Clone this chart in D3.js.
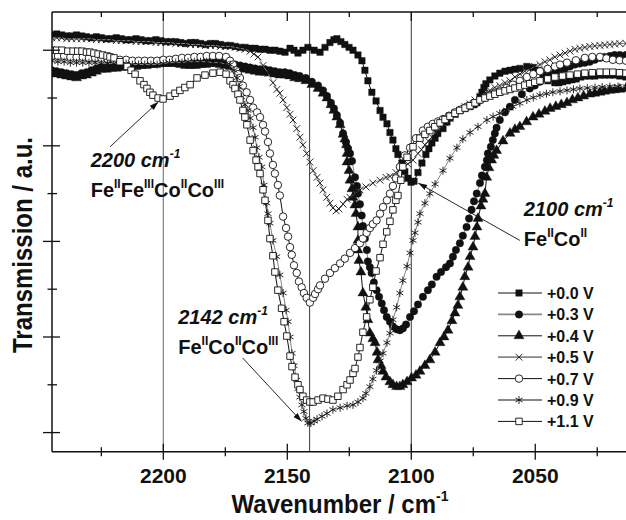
<!DOCTYPE html>
<html>
<head>
<meta charset="utf-8">
<script src="https://cdn.jsdelivr.net/npm/d3@7"></script>
<style>
  body { margin: 0; background: #fff; }
  svg text { font-family: "Liberation Sans", Arial, Helvetica, sans-serif; fill: #111; }
</style>
</head>
<body>
<div id="chart"></div>
<script>
// IR spectra, [wavenumber (cm-1), transmission (a.u.)]
const s00 = [[2244.9,41.6],[2243.0,41.7],[2241.0,41.6],[2239.0,41.5],[2237.0,41.5],[2235.0,41.6],[2233.0,41.5],[2231.0,41.4],[2229.0,41.3],[2227.0,41.4],[2225.0,41.3],[2223.0,41.2],[2221.0,41.2],[2219.0,41.3],[2217.0,41.2],[2215.0,41.1],[2213.0,41.1],[2211.0,41.2],[2209.0,41.1],[2207.0,41.0],[2205.0,41.0],[2203.0,41.1],[2201.0,41.0],[2199.0,40.9],[2197.0,40.9],[2195.0,40.9],[2193.0,40.8],[2191.0,40.7],[2189.0,40.8],[2187.0,40.8],[2185.0,40.7],[2183.0,40.6],[2181.0,40.7],[2179.0,40.7],[2177.0,40.6],[2175.0,40.5],[2173.0,40.5],[2171.0,40.4],[2169.0,40.3],[2167.0,40.3],[2165.0,40.2],[2163.0,40.2],[2161.0,40.1],[2159.0,40.1],[2157.0,40.0],[2155.0,40.0],[2153.0,39.9],[2150.9,39.8],[2148.9,40.2],[2147.3,40.0],[2145.7,39.7],[2143.7,40.0],[2141.7,40.3],[2139.2,40.0],[2136.8,39.8],[2134.8,40.3],[2132.8,40.8],[2131.2,41.1],[2130.0,41.2],[2128.4,40.9],[2126.8,40.6],[2125.1,40.3],[2123.5,40.0],[2121.5,39.5],[2119.9,38.9],[2118.7,37.9],[2117.5,36.8],[2115.9,35.6],[2114.2,34.7],[2112.6,33.7],[2111.4,33.0],[2109.8,32.3],[2108.6,31.4],[2107.4,30.6],[2106.2,29.7],[2105.4,29.1],[2103.8,28.2],[2102.6,27.3],[2101.4,26.6],[2100.1,26.2],[2098.9,26.3],[2097.3,27.2],[2095.7,28.2],[2094.1,29.1],[2092.9,29.7],[2091.7,30.3],[2090.4,30.8],[2089.3,31.3],[2087.2,31.8],[2085.6,32.5],[2084.4,32.9],[2082.4,33.3],[2080.4,33.7],[2078.4,33.9],[2076.3,34.1],[2074.7,34.3],[2073.5,34.5],[2072.3,35.1],[2071.5,35.6],[2070.7,36.1],[2069.9,36.5],[2068.3,36.9],[2066.3,37.3],[2064.3,37.6],[2062.2,37.8],[2060.2,37.9],[2058.2,38.0],[2056.2,38.1],[2053.4,38.3],[2050.9,38.2],[2048.9,37.9],[2046.9,37.4],[2044.9,36.8],[2042.1,36.6],[2040.5,36.6],[2038.9,36.7],[2037.0,36.8],[2035.2,36.9],[2033.5,37.0],[2031.6,37.2],[2030.0,37.3],[2028.0,37.3],[2026.0,37.3],[2023.9,37.4],[2022.0,37.4],[2019.9,37.4],[2018.0,37.4],[2015.9,37.3],[2013.4,37.2]];

const s03 = [[2245.0,37.9],[2243.0,37.8],[2241.0,37.7],[2239.0,37.6],[2237.0,37.5],[2235.0,37.4],[2233.0,37.6],[2231.0,37.7],[2229.0,37.9],[2227.0,38.1],[2225.0,38.3],[2223.0,38.3],[2221.0,38.4],[2219.0,38.4],[2217.0,38.5],[2215.0,38.5],[2213.0,38.6],[2211.0,38.6],[2209.0,38.7],[2207.0,38.7],[2205.0,38.8],[2203.0,38.8],[2201.0,38.9],[2199.0,38.9],[2197.0,38.9],[2195.0,38.9],[2193.0,38.8],[2191.0,38.7],[2189.0,38.7],[2187.0,38.7],[2185.0,38.8],[2183.0,38.8],[2181.0,38.9],[2179.0,38.9],[2177.0,38.8],[2175.0,38.7],[2173.0,38.6],[2171.0,38.5],[2169.0,38.4],[2167.0,38.3],[2165.0,38.2],[2163.0,38.1],[2161.0,38.0],[2159.0,38.0],[2157.0,37.9],[2155.0,37.8],[2153.0,37.7],[2151.0,37.7],[2149.0,37.6],[2147.0,37.4],[2145.0,37.3],[2142.5,37.1],[2140.1,36.7],[2137.6,36.3],[2135.6,35.8],[2134.0,35.2],[2132.4,34.5],[2131.2,33.9],[2130.0,33.2],[2128.7,32.4],[2127.5,31.3],[2126.4,30.4],[2125.5,29.7],[2124.7,29.2],[2123.9,28.4],[2122.7,26.7],[2121.9,25.8],[2121.5,25.0],[2120.7,23.9],[2120.0,22.7],[2119.5,21.6],[2118.7,20.3],[2117.9,19.1],[2117.5,17.9],[2116.7,17.3],[2116.0,16.7],[2115.1,15.7],[2114.0,14.9],[2113.0,14.2],[2111.9,13.5],[2111.0,12.8],[2109.9,12.1],[2108.6,11.6],[2107.4,11.1],[2105.9,10.8],[2104.6,10.7],[2103.4,10.9],[2102.1,11.3],[2100.5,12.1],[2098.9,12.7],[2097.3,13.4],[2095.3,14.2],[2093.3,14.9],[2091.7,15.5],[2089.8,16.3],[2088.0,16.8],[2086.0,17.3],[2084.4,17.7],[2083.2,18.4],[2082.0,19.1],[2080.4,19.8],[2079.2,20.6],[2077.7,21.5],[2076.7,22.4],[2075.7,23.3],[2074.7,24.2],[2073.6,25.0],[2072.3,26.1],[2071.5,26.9],[2070.3,27.8],[2069.5,28.5],[2069.1,29.2],[2067.9,29.9],[2067.1,30.6],[2066.3,31.3],[2065.6,31.9],[2064.3,32.7],[2062.2,33.5],[2060.2,34.1],[2058.2,34.8],[2055.4,35.4],[2052.2,36.0],[2050.2,36.3],[2048.1,36.7],[2046.0,37.1],[2044.1,37.4],[2042.0,37.7],[2040.0,37.9],[2038.0,38.1],[2036.0,38.3],[2034.0,38.5],[2032.0,38.6],[2030.0,38.7],[2028.0,38.8],[2026.0,39.0],[2023.9,39.2],[2022.0,39.3],[2019.9,39.4],[2018.0,39.5],[2015.9,39.5],[2013.4,39.5]];

const s04 = [[2245.0,37.6],[2243.0,37.5],[2241.0,37.4],[2239.0,37.3],[2237.0,37.2],[2235.0,37.1],[2233.0,37.3],[2231.0,37.4],[2229.0,37.6],[2227.0,37.8],[2225.0,38.0],[2223.0,38.0],[2221.0,38.1],[2219.0,38.1],[2217.0,38.2],[2215.0,38.2],[2213.0,38.3],[2211.0,38.3],[2209.0,38.4],[2207.0,38.4],[2205.0,38.5],[2203.0,38.5],[2201.0,38.6],[2199.0,38.6],[2197.0,38.6],[2195.0,38.6],[2193.0,38.5],[2191.0,38.4],[2189.0,38.4],[2187.0,38.4],[2185.0,38.5],[2183.0,38.5],[2181.0,38.6],[2179.0,38.6],[2177.0,38.5],[2175.0,38.4],[2173.0,38.3],[2171.0,38.2],[2169.0,38.1],[2167.0,38.0],[2165.0,37.9],[2163.0,37.8],[2161.0,37.7],[2159.0,37.7],[2157.0,37.6],[2155.0,37.5],[2153.0,37.4],[2151.0,37.4],[2149.0,37.3],[2147.0,37.1],[2145.0,37.0],[2142.5,36.8],[2140.1,36.4],[2137.6,36.0],[2135.6,35.5],[2134.0,35.0],[2132.4,34.3],[2131.2,33.7],[2130.0,33.0],[2128.7,32.2],[2127.5,31.2],[2126.8,30.7],[2126.1,30.1],[2125.9,29.2],[2125.9,28.3],[2125.1,27.4],[2124.7,26.4],[2123.9,25.5],[2123.5,24.6],[2122.7,23.8],[2122.3,22.9],[2121.5,21.5],[2121.5,20.1],[2121.5,19.1],[2121.1,18.0],[2120.3,16.8],[2119.5,14.6],[2118.3,13.1],[2117.5,11.8],[2116.7,10.4],[2115.5,9.8],[2114.6,9.4],[2113.8,8.4],[2113.4,7.6],[2112.2,7.0],[2111.4,6.4],[2110.2,5.8],[2108.6,5.3],[2107.4,5.0],[2105.9,4.8],[2104.6,4.8],[2103.4,5.0],[2101.7,5.3],[2099.9,5.7],[2098.1,6.0],[2096.5,6.4],[2094.5,7.0],[2092.5,7.6],[2090.4,8.4],[2088.4,9.4],[2086.8,10.0],[2085.2,10.7],[2083.6,11.7],[2082.4,12.5],[2081.2,13.3],[2080.4,14.2],[2079.2,15.2],[2078.4,16.3],[2077.1,17.3],[2076.3,18.4],[2075.1,19.4],[2074.3,20.5],[2073.5,21.5],[2073.1,22.4],[2071.9,23.7],[2071.1,24.4],[2070.3,25.0],[2069.6,26.7],[2068.7,27.7],[2067.6,28.5],[2066.7,29.0],[2065.6,29.5],[2063.0,30.5],[2060.2,31.3],[2058.2,31.7],[2056.2,32.0],[2053.5,32.5],[2050.9,33.0],[2048.5,33.3],[2046.1,33.6],[2044.0,33.9],[2041.7,34.1],[2039.5,34.3],[2037.2,34.5],[2035.0,34.8],[2032.8,35.0],[2030.5,35.2],[2028.0,35.4],[2026.0,35.5],[2023.9,35.6],[2022.0,35.7],[2019.9,35.8],[2018.0,35.85],[2015.9,35.9],[2013.4,36.0]];

const s05 = [[2245.0,41.3],[2243.0,41.3],[2241.0,41.3],[2239.0,41.2],[2237.0,41.2],[2235.0,41.2],[2233.0,41.2],[2231.0,41.2],[2229.0,41.2],[2227.0,41.1],[2225.0,41.1],[2223.0,41.1],[2221.0,41.1],[2219.0,41.0],[2217.0,41.0],[2215.0,41.0],[2213.0,41.0],[2211.0,40.9],[2209.0,40.9],[2207.0,40.9],[2205.0,40.9],[2203.0,40.8],[2201.0,40.8],[2199.0,40.8],[2197.0,40.8],[2195.0,40.7],[2193.0,40.7],[2191.0,40.7],[2189.0,40.6],[2187.0,40.6],[2185.0,40.6],[2183.0,40.5],[2181.0,40.5],[2179.0,40.5],[2177.0,40.4],[2175.0,40.4],[2173.0,40.4],[2171.0,40.3],[2169.0,40.2],[2167.0,40.1],[2165.0,39.9],[2163.5,39.6],[2161.8,39.3],[2159.8,38.4],[2157.8,37.6],[2155.8,36.6],[2154.2,35.9],[2153.0,35.5],[2151.7,34.8],[2150.2,34.0],[2148.9,33.3],[2147.7,32.7],[2146.2,31.8],[2144.9,30.9],[2143.7,30.1],[2142.2,29.2],[2140.9,28.3],[2139.6,27.4],[2138.0,26.7],[2136.8,26.1],[2135.6,25.4],[2134.1,24.6],[2132.8,24.0],[2131.6,23.5],[2130.3,23.2],[2129.2,23.4],[2127.5,23.9],[2125.9,24.4],[2124.7,24.6],[2122.7,25.0],[2120.7,25.4],[2118.3,25.7],[2115.5,26.1],[2112.6,26.4],[2110.2,26.7],[2108.6,26.8],[2106.2,27.2],[2103.4,27.7],[2101.4,28.1],[2099.3,28.5],[2097.3,29.2],[2095.9,29.6],[2094.5,30.1],[2093.1,30.5],[2091.7,30.9],[2090.0,31.4],[2088.4,31.8],[2086.4,32.4],[2084.4,32.9],[2082.4,33.3],[2080.4,33.7],[2078.3,34.1],[2076.3,34.4],[2074.3,34.8],[2072.3,35.2],[2070.3,35.5],[2068.3,35.8],[2066.3,36.1],[2064.3,36.3],[2062.2,36.6],[2060.2,36.8],[2058.2,37.2],[2056.2,37.5],[2054.2,37.8],[2052.2,38.0],[2050.2,38.3],[2048.1,38.5],[2046.1,38.8],[2044.1,39.0],[2042.1,39.3],[2040.0,39.5],[2038.0,39.7],[2036.0,39.9],[2034.0,40.1],[2032.0,40.2],[2030.0,40.3],[2028.0,40.4],[2026.0,40.45],[2023.9,40.5],[2022.0,40.55],[2019.9,40.6],[2018.0,40.65],[2015.9,40.7],[2013.4,40.7]];

const s07 = [[2245.0,39.4],[2242.5,39.4],[2240.0,39.4],[2237.5,39.3],[2235.0,39.3],[2232.5,39.3],[2230.0,39.2],[2227.5,39.2],[2225.0,39.2],[2222.5,39.1],[2220.0,39.0],[2217.5,39.0],[2215.0,39.0],[2212.5,38.9],[2210.0,38.9],[2207.5,38.9],[2205.0,38.9],[2202.5,38.9],[2200.0,39.0],[2197.5,39.0],[2195.0,39.1],[2192.5,39.2],[2190.0,39.2],[2187.5,39.3],[2185.0,39.3],[2182.5,39.4],[2180.0,39.4],[2177.5,39.4],[2174.7,39.3],[2173.1,38.9],[2171.9,38.5],[2170.7,37.9],[2169.9,37.5],[2169.1,37.1],[2167.9,36.3],[2166.4,35.6],[2165.0,34.8],[2163.8,34.0],[2162.2,33.5],[2161.0,33.0],[2159.8,32.2],[2159.0,31.5],[2157.8,30.4],[2157.0,29.2],[2155.8,28.0],[2155.0,27.1],[2153.8,25.9],[2153.0,24.8],[2151.7,22.6],[2150.5,21.4],[2149.7,20.5],[2148.9,19.4],[2148.2,18.6],[2147.3,17.5],[2146.2,16.7],[2145.3,15.8],[2144.2,15.2],[2143.3,14.6],[2142.2,14.1],[2140.9,13.6],[2139.6,14.1],[2138.8,14.5],[2137.6,15.0],[2136.8,15.4],[2134.8,16.1],[2132.8,16.7],[2130.8,17.2],[2128.7,17.7],[2126.8,18.2],[2124.7,18.8],[2122.7,19.3],[2120.7,19.8],[2119.5,20.3],[2118.0,20.9],[2116.7,21.4],[2115.5,21.8],[2114.0,22.2],[2112.6,22.9],[2111.4,23.6],[2109.8,24.3],[2108.6,25.0],[2107.4,25.8],[2106.2,26.6],[2104.6,27.8],[2102.6,29.0],[2100.5,29.8],[2098.1,30.8],[2095.3,31.6],[2093.3,32.0],[2091.3,32.3],[2089.2,32.55],[2087.2,32.8],[2084.8,33.15],[2082.4,33.5],[2080.0,33.8],[2077.6,34.1],[2075.0,34.45],[2072.3,34.8],[2070.3,35.05],[2068.3,35.3],[2066.3,35.5],[2064.3,35.7],[2061.6,36.05],[2059.0,36.4],[2056.2,36.8],[2053.4,37.2],[2050.8,37.5],[2048.1,37.8],[2045.0,38.05],[2042.1,38.3],[2040.0,38.5],[2037.2,38.7],[2033.6,38.95],[2030.0,39.2],[2027.0,39.3],[2023.9,39.3],[2021.3,39.15],[2018.7,39.0],[2016.0,38.95],[2013.4,38.9]];

const s09 = [[2245.0,38.9],[2242.5,38.8],[2240.0,38.8],[2237.5,38.7],[2235.0,38.7],[2232.5,38.7],[2230.0,38.7],[2227.5,38.7],[2225.0,38.6],[2222.5,38.6],[2220.0,38.6],[2217.5,38.6],[2215.0,38.6],[2212.5,38.5],[2210.0,38.5],[2207.5,38.5],[2205.0,38.5],[2202.5,38.5],[2200.0,38.6],[2197.5,38.7],[2195.0,38.7],[2192.5,38.7],[2190.0,38.8],[2187.5,38.8],[2185.0,38.8],[2182.5,38.8],[2180.0,38.7],[2177.5,38.7],[2175.0,38.6],[2173.1,38.5],[2171.5,37.9],[2170.3,37.1],[2169.5,36.2],[2168.4,35.1],[2167.1,34.3],[2165.9,33.7],[2165.0,32.9],[2163.8,31.9],[2163.0,30.9],[2162.3,29.8],[2161.4,28.8],[2160.3,27.8],[2159.4,25.9],[2158.3,24.0],[2157.8,22.9],[2157.0,21.9],[2155.8,20.1],[2154.3,18.4],[2153.0,16.5],[2151.7,14.6],[2150.5,12.8],[2149.7,11.6],[2148.9,10.0],[2148.1,8.3],[2147.3,7.0],[2146.2,5.5],[2145.7,4.6],[2144.9,3.7],[2144.1,2.9],[2143.3,2.2],[2142.5,1.5],[2141.7,1.0],[2140.5,1.0],[2139.2,1.2],[2138.0,1.4],[2136.0,1.7],[2134.0,2.0],[2131.6,2.4],[2128.7,2.6],[2125.9,2.8],[2123.5,2.9],[2121.5,3.2],[2119.5,3.6],[2118.3,4.1],[2116.7,4.8],[2115.5,5.6],[2114.0,6.5],[2112.6,7.5],[2111.4,8.3],[2109.8,9.4],[2108.6,10.4],[2107.4,11.8],[2105.9,13.1],[2104.6,14.6],[2103.4,15.9],[2101.7,17.4],[2100.5,18.8],[2099.3,20.1],[2098.5,20.9],[2097.3,22.0],[2096.5,22.9],[2094.5,24.0],[2092.5,25.0],[2090.4,26.0],[2087.2,27.4],[2084.4,28.7],[2081.6,29.8],[2079.2,30.7],[2076.3,31.4],[2073.1,32.0],[2069.5,32.7],[2067.0,33.05],[2064.3,33.4],[2061.6,33.75],[2059.0,34.1],[2056.2,34.45],[2053.4,34.8],[2050.8,35.05],[2048.1,35.3],[2045.5,35.45],[2042.9,35.6],[2040.0,35.7],[2037.2,35.8],[2034.6,35.9],[2032.0,36.0],[2029.0,36.05],[2025.9,36.1],[2023.0,36.15],[2019.9,36.2],[2016.6,36.2],[2013.4,36.2]];

const s11 = [[2244.9,40.0],[2243.0,40.0],[2240.9,40.0],[2238.5,39.9],[2236.4,39.9],[2234.5,39.9],[2232.8,39.9],[2231.0,39.8],[2229.6,39.8],[2228.0,39.7],[2226.3,39.6],[2224.5,39.5],[2222.7,39.4],[2221.5,39.3],[2219.9,39.2],[2217.5,38.8],[2214.6,38.3],[2213.0,37.9],[2211.4,37.5],[2209.4,36.8],[2207.8,36.4],[2206.6,36.0],[2205.4,35.6],[2204.2,35.3],[2202.1,35.0],[2200.1,34.9],[2197.3,35.2],[2195.3,35.5],[2193.3,35.8],[2191.3,36.1],[2189.2,36.4],[2186.4,37.1],[2183.2,37.4],[2180.0,37.6],[2177.1,37.7],[2174.7,37.5],[2173.1,36.8],[2171.9,36.4],[2171.1,36.0],[2169.9,35.4],[2169.1,34.8],[2167.9,33.7],[2167.1,33.0],[2166.3,32.2],[2165.0,30.6],[2163.8,29.5],[2162.6,28.5],[2161.8,27.8],[2161.0,27.1],[2159.8,25.4],[2159.0,24.3],[2157.8,22.2],[2157.0,20.3],[2155.8,18.5],[2155.0,16.8],[2153.8,14.9],[2152.3,13.0],[2151.3,11.6],[2150.2,10.1],[2148.9,8.0],[2148.1,6.9],[2146.9,5.8],[2145.7,5.0],[2144.9,4.5],[2143.7,3.8],[2142.2,3.4],[2140.9,3.2],[2139.6,3.2],[2137.6,3.4],[2135.6,3.6],[2133.6,3.5],[2131.6,3.4],[2129.6,3.8],[2127.5,4.5],[2125.9,5.0],[2124.7,5.5],[2123.5,6.2],[2122.7,6.7],[2121.5,7.9],[2120.7,8.9],[2119.5,10.5],[2118.0,12.1],[2116.7,13.9],[2115.5,15.2],[2114.2,16.9],[2112.6,18.3],[2111.4,19.7],[2109.9,21.0],[2108.6,22.1],[2107.4,23.3],[2106.2,24.3],[2105.4,24.8],[2104.2,26.4],[2103.4,27.8],[2101.7,28.8],[2099.3,29.9],[2096.5,30.8],[2094.5,31.2],[2092.5,31.6],[2090.5,32.0],[2088.4,32.4],[2086.4,32.75],[2084.4,33.1],[2082.4,33.4],[2080.4,33.7],[2078.3,33.95],[2076.3,34.2],[2074.3,34.5],[2072.3,34.8],[2070.3,35.0],[2068.3,35.2],[2066.3,35.4],[2064.3,35.6],[2062.2,35.75],[2060.2,35.9],[2058.2,36.05],[2056.2,36.2],[2054.2,36.35],[2052.2,36.5],[2050.2,36.65],[2048.1,36.8],[2045.0,37.0],[2042.1,37.2],[2039.0,37.3],[2036.0,37.4],[2033.0,37.5],[2030.0,37.6],[2027.0,37.65],[2023.9,37.7],[2021.3,37.7],[2018.7,37.7],[2016.0,37.65],[2013.4,37.6]];

const seriesNames = ["+0.0 V", "+0.3 V", "+0.4 V", "+0.5 V", "+0.7 V", "+0.9 V", "+1.1 V"];
const seriesData = [s00, s03, s04, s05, s07, s09, s11];

const xMajorTicks = [2200, 2150, 2100, 2050];
const xMinorTicks = [2225, 2175, 2125, 2075, 2025];
const yMajorTicks = [0, 10, 20, 30, 40];
const yMinorTicks = [5, 15, 25, 35];
const refLines = [2200, 2141, 2100];

// marker + line style per series, same order as seriesNames
const styles = [
    {sym: "square",   fill: "#111", line: "#111"},
    {sym: "circle",   fill: "#111", line: "#888"},
    {sym: "triangle", fill: "#111", line: "#111"},
    {sym: "x",        fill: "none", line: "#888"},
    {sym: "circle",   fill: "#fff", line: "#111"},
    {sym: "asterisk", fill: "none", line: "#888"},
    {sym: "square",   fill: "#fff", line: "#111"}
];

const width = 626, height = 520;
const plot = {left: 52, right: 626, top: 12, bottom: 451.7};

const x = d3.scaleLinear().domain([2244.9, 2013.4]).range([plot.left, plot.right]);
const y = d3.scaleLinear().domain([-2, 44]).range([plot.bottom, plot.top]);

const svg = d3.select("#chart").append("svg")
    .attr("width", width)
    .attr("height", height);

const defs = svg.append("defs");
defs.append("clipPath").attr("id", "plotClip")
    .append("rect")
    .attr("x", plot.left).attr("y", plot.top)
    .attr("width", plot.right - plot.left).attr("height", plot.bottom - plot.top);
defs.append("marker")
    .attr("id", "arrow")
    .attr("viewBox", "0 0 10 10")
    .attr("refX", 10).attr("refY", 5)
    .attr("markerWidth", 9).attr("markerHeight", 9)
    .attr("markerUnits", "userSpaceOnUse")
    .attr("orient", "auto")
    .append("path")
    .attr("d", "M0,1.8L10,5L0,8.2Z")
    .attr("fill", "#111");

const markerPath = (kind) => {
    if (kind === "square") return d3.symbol(d3.symbolSquare, 42)();
    if (kind === "circle") return d3.symbol(d3.symbolCircle, 44)();
    if (kind === "triangle") return d3.symbol(d3.symbolTriangle, 44)();
    if (kind === "x") return "M-3.4,-3.4L3.4,3.4M-3.4,3.4L3.4,-3.4";
    return "M0,-4L0,4M-3.5,-2L3.5,2M-3.5,2L3.5,-2";
};

const drawMarker = (sel, st) => {
    sel.attr("d", markerPath(st.sym))
        .attr("fill", st.fill)
        .attr("stroke", "#111")
        .attr("stroke-width", st.fill === "#111" ? 0.4 : 0.9);
};

// reference lines
svg.append("g").selectAll("line")
    .data(refLines)
    .join("line")
    .attr("x1", d => x(d)).attr("x2", d => x(d))
    .attr("y1", plot.top).attr("y2", plot.bottom)
    .attr("stroke", d => d === 2200 ? "#8a8a8a" : "#222")
    .attr("stroke-width", d => d === 2200 ? 1.3 : 0.9);

// spectra
const plotArea = svg.append("g").attr("clip-path", "url(#plotClip)");
const line = d3.line().x(d => x(d[0])).y(d => y(d[1]));

seriesData.forEach((data, i) => {
    const st = styles[i];
    const g = plotArea.append("g");
    g.append("path")
        .datum(data)
        .attr("d", line)
        .attr("fill", "none")
        .attr("stroke", st.line)
        .attr("stroke-width", 1);
    g.selectAll("path.pt")
        .data(data)
        .join("path")
        .attr("class", "pt")
        .attr("transform", d => `translate(${x(d[0])},${y(d[1])})`)
        .call(drawMarker, st);
});

// axes
const xAxisG = svg.append("g").attr("transform", `translate(0,${plot.bottom})`);
xAxisG.append("line").attr("x1", plot.left).attr("x2", plot.right).attr("stroke", "#111").attr("stroke-width", 1.5);
xAxisG.selectAll("line.maj").data(xMajorTicks).join("line").attr("class", "maj")
    .attr("x1", d => x(d)).attr("x2", d => x(d)).attr("y1", -8).attr("y2", 8)
    .attr("stroke", "#111").attr("stroke-width", 1.3);
xAxisG.selectAll("line.min").data(xMinorTicks).join("line").attr("class", "min")
    .attr("x1", d => x(d)).attr("x2", d => x(d)).attr("y1", -4.5).attr("y2", 4.5)
    .attr("stroke", "#111").attr("stroke-width", 1.3);
xAxisG.selectAll("text").data(xMajorTicks).join("text")
    .attr("x", d => x(d)).attr("y", 31.5)
    .attr("text-anchor", "middle")
    .style("font-size", "21px").style("font-weight", "bold")
    .text(d => d);

// top frame
const topG = svg.append("g").attr("transform", `translate(0,${plot.top})`);
topG.append("line").attr("x1", plot.left).attr("x2", plot.right).attr("stroke", "#111").attr("stroke-width", 1.5);
topG.selectAll("line.maj").data(xMajorTicks).join("line").attr("class", "maj")
    .attr("x1", d => x(d)).attr("x2", d => x(d)).attr("y1", 0).attr("y2", 9)
    .attr("stroke", "#111").attr("stroke-width", 1.3);
topG.selectAll("line.min").data(xMinorTicks).join("line").attr("class", "min")
    .attr("x1", d => x(d)).attr("x2", d => x(d)).attr("y1", 0).attr("y2", 5)
    .attr("stroke", "#111").attr("stroke-width", 1.3);

const yAxisG = svg.append("g").attr("transform", `translate(${plot.left},0)`);
yAxisG.append("line").attr("y1", plot.top).attr("y2", plot.bottom).attr("stroke", "#111").attr("stroke-width", 1.5);
yAxisG.selectAll("line.maj").data(yMajorTicks).join("line").attr("class", "maj")
    .attr("y1", d => y(d)).attr("y2", d => y(d)).attr("x1", -9).attr("x2", 8)
    .attr("stroke", "#111").attr("stroke-width", 1.3);
yAxisG.selectAll("line.min").data(yMinorTicks).join("line").attr("class", "min")
    .attr("y1", d => y(d)).attr("y2", d => y(d)).attr("x1", -4.5).attr("x2", 5)
    .attr("stroke", "#111").attr("stroke-width", 1.3);

// axis titles (glyphs slightly taller than wide, as in the original)
svg.append("text")
    .attr("transform", "translate(32,245) rotate(-90) scale(1,1.12)")
    .attr("text-anchor", "middle")
    .style("font-size", "24px").style("font-weight", "bold")
    .text("Transmission / a.u.");

const xt = svg.append("text")
    .attr("transform", "translate(340,513) scale(1,1.1)")
    .attr("text-anchor", "middle")
    .style("font-size", "24px").style("font-weight", "bold");
xt.append("tspan").text("Wavenumber / cm");
xt.append("tspan").attr("dy", -11).style("font-size", "14px").text("-1");

// peak annotations (text anchor and arrow given in data coordinates)
const annotations = [
    {pos: [2229.3, 27.8], peak: "2200", species: [["Fe", "II"], ["Fe", "III"], ["Co", "II"], ["Co", "III"]],
     from: [2221.5, 29.9], to: [2202.0, 34.6]},
    {pos: [2054.6, 22.7], peak: "2100", species: [["Fe", "II"], ["Co", "II"]],
     from: [2056.2, 20.1], to: [2097.2, 26.1]},
    {pos: [2194.0, 11.35], peak: "2142", species: [["Fe", "II"], ["Co", "II"], ["Co", "III"]],
     from: [2168.0, 7.8], to: [2144.2, 1.15]}
];

const annG = svg.append("g");
annotations.forEach(a => {
    const tx = x(a.pos[0]), ty = y(a.pos[1]);
    const t1 = annG.append("text")
        .attr("x", tx).attr("y", ty)
        .style("font-size", "20px").style("font-weight", "bold").style("font-style", "italic");
    t1.append("tspan").text(`${a.peak} cm`);
    t1.append("tspan").attr("y", ty - 9).style("font-size", "12px").text("-1");

    const t2 = annG.append("text")
        .attr("x", tx).attr("y", ty + 30)
        .style("font-size", "20px").style("font-weight", "bold");
    a.species.forEach(s => {
        t2.append("tspan").attr("y", ty + 30).text(s[0]);
        t2.append("tspan").attr("y", ty + 21).style("font-size", "12px").text(s[1]);
    });

    annG.append("line")
        .attr("x1", x(a.from[0])).attr("y1", y(a.from[1]))
        .attr("x2", x(a.to[0])).attr("y2", y(a.to[1]))
        .attr("stroke", "#111").attr("stroke-width", 0.9)
        .attr("marker-end", "url(#arrow)");
});

// legend
const legend = svg.append("g").attr("transform", "translate(498,293)");
seriesNames.forEach((name, i) => {
    const st = styles[i];
    const row = legend.append("g").attr("transform", `translate(0,${i * 21.4})`);
    row.append("line").attr("x1", 0).attr("x2", 44).attr("y1", 0).attr("y2", 0)
        .attr("stroke", st.line).attr("stroke-width", st.line === "#111" ? 1 : 1.8);
    row.append("path").attr("transform", "translate(21,0)").call(drawMarker, st);
    row.append("text").attr("x", 49).attr("y", 6)
        .style("font-size", "16px").style("font-weight", "bold")
        .text(name);
});
</script>
</body>
</html>
